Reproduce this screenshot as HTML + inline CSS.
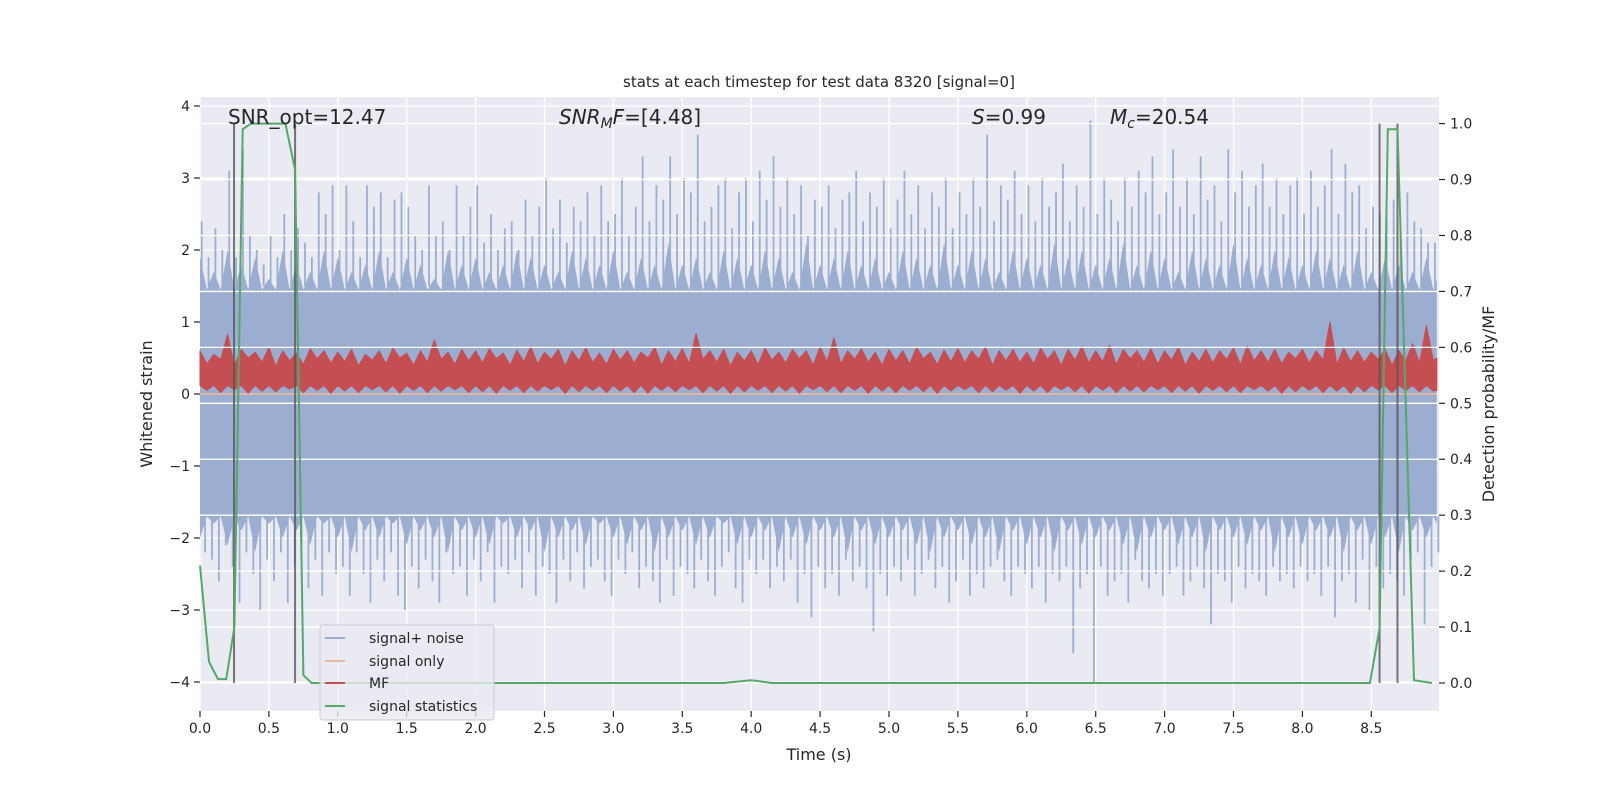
<!DOCTYPE html>
<html><head><meta charset="utf-8"><style>
html,body{margin:0;padding:0;background:#fff;}
svg{display:block;font-family:"DejaVu Sans","Liberation Sans",sans-serif;}
</style></head><body>
<svg id="chart" width="1600" height="800" viewBox="0 0 1600 800" xmlns="http://www.w3.org/2000/svg">
<rect x="200" y="97" width="1239" height="614" fill="#eaeaf2"/>
<g id="gridL"></g>
<g id="noise"></g>
<g id="sigonly"></g>
<g id="mf"></g>
<g id="gridR"></g>
<g id="vlines"></g>
<g id="stats"></g>
<g id="axes"></g>
<text x="819" y="87" text-anchor="middle" font-size="15" fill="#262626">stats at each timestep for test data 8320 [signal=0]</text>
<text x="819" y="760" text-anchor="middle" font-size="16" fill="#262626">Time (s)</text>
<text transform="translate(152,404) rotate(-90)" text-anchor="middle" font-size="16" fill="#262626">Whitened strain</text>
<text transform="translate(1494,404) rotate(-90)" text-anchor="middle" font-size="16" fill="#262626">Detection probability/MF</text>
<g font-size="20" fill="#262626">
<text x="228" y="124">SNR_opt=12.47</text>
<text x="559" y="124"><tspan font-style="italic">SNR</tspan><tspan font-style="italic" font-size="14" dy="4">M</tspan><tspan font-style="italic" dy="-4">F</tspan>=[4.48]</text>
<text x="972" y="124"><tspan font-style="italic">S</tspan>=0.99</text>
<text x="1110" y="124"><tspan font-style="italic">M</tspan><tspan font-style="italic" font-size="14" dy="4">c</tspan><tspan dy="-4">=20.54</tspan></text>
</g>
<g>
<rect x="320" y="625" width="174" height="95" rx="3" fill="#eaeaf2" fill-opacity="0.8" stroke="#cccccc"/>
<g font-size="14" fill="#262626">
<line x1="325" y1="638" x2="345" y2="638" stroke="#9baed1" stroke-width="2"/><text x="369" y="643">signal+ noise</text>
<line x1="325" y1="661" x2="345" y2="661" stroke="#e9b89e" stroke-width="2"/><text x="369" y="666">signal only</text>
<line x1="325" y1="683" x2="345" y2="683" stroke="#c44e52" stroke-width="2"/><text x="369" y="688">MF</text>
<line x1="325" y1="706" x2="345" y2="706" stroke="#55a868" stroke-width="2"/><text x="369" y="711">signal statistics</text>
</g></g>
</svg>
<script>
const xTicks=[0,0.5,1,1.5,2,2.5,3,3.5,4,4.5,5,5.5,6,6.5,7,7.5,8,8.5];
const yTicks=[-4,-3,-2,-1,0,1,2,3,4];
const y2Ticks=[0,0.1,0.2,0.3,0.4,0.5,0.6,0.7,0.8,0.9,1.0];
const noiseHi=[2.4,1.9,2.3,2.0,3.1,1.9,3.4,2.2,2.0,1.8,2.2,1.9,2.5,2.0,2.3,2.1,1.9,2.8,2.5,2.9,
2.0,2.9,2.4,1.9,2.9,2.6,2.8,1.9,2.7,2.8,2.6,2.2,2.0,2.9,2.2,2.4,2.0,2.9,2.2,2.6,
2.9,2.1,2.5,2.0,2.3,2.4,2.0,2.7,2.2,2.6,3.0,2.3,2.7,2.1,2.6,2.4,2.8,2.2,2.9,2.4,
2.5,3.0,2.2,2.6,3.3,2.4,2.9,2.7,3.3,2.5,3.0,2.8,3.6,2.4,2.6,2.9,3.0,2.3,2.8,3.0,
2.4,3.1,2.7,3.3,2.6,3.0,2.5,2.9,2.2,2.7,2.6,2.9,2.3,2.7,2.8,3.1,2.4,2.8,2.6,3.0,
2.3,2.7,3.1,2.5,2.9,2.3,2.8,2.6,3.0,2.3,2.8,2.5,3.0,2.6,3.6,2.4,2.9,2.7,3.1,2.5,
2.9,2.4,3.0,2.6,2.8,3.2,2.4,2.9,2.6,3.8,2.5,3.0,2.7,2.4,3.0,2.6,3.1,2.8,3.3,2.5,
2.8,3.4,2.6,3.0,2.5,3.3,2.7,2.9,2.4,3.4,2.8,3.1,2.6,2.9,3.2,2.6,3.0,2.5,2.9,3.0,
2.5,3.1,2.6,2.9,3.4,2.5,3.2,2.8,2.9,2.3,2.6,2.5,2.4,2.7,2.2,2.8,2.4,2.3,2.1,2.1];
const noiseLo=[-2.2,-2.3,-2.6,-2.1,-2.4,-2.9,-2.2,-2.5,-3.0,-2.3,-2.6,-2.2,-2.9,-2.4,-2.1,-2.7,-2.3,-2.8,-2.2,-2.5,
-2.4,-2.8,-2.2,-2.5,-2.9,-2.3,-2.6,-2.2,-2.8,-3.0,-2.4,-2.7,-2.3,-2.6,-2.9,-2.2,-2.5,-2.4,-2.8,-2.3,
-2.6,-2.2,-2.9,-2.4,-2.5,-2.3,-2.7,-2.2,-2.8,-2.4,-2.5,-2.9,-2.3,-2.6,-2.2,-2.7,-2.4,-2.3,-2.6,-2.8,
-2.3,-2.5,-2.2,-2.7,-2.4,-2.6,-2.9,-2.3,-2.8,-2.4,-2.5,-2.7,-2.3,-2.6,-2.8,-2.4,-2.2,-2.7,-2.9,-2.3,
-2.5,-2.3,-2.7,-2.4,-2.6,-2.3,-2.9,-2.5,-3.1,-2.4,-2.7,-2.5,-2.8,-2.3,-2.6,-2.4,-2.7,-3.3,-2.5,-2.8,
-2.4,-2.6,-2.3,-2.8,-2.5,-2.3,-2.7,-2.4,-2.9,-2.6,-2.3,-2.8,-2.5,-2.7,-2.4,-2.3,-2.6,-2.8,-2.4,-2.5,
-2.7,-2.4,-2.9,-2.5,-2.6,-2.4,-3.6,-2.7,-2.5,-4.0,-2.4,-2.8,-2.6,-2.5,-2.9,-2.3,-2.6,-2.7,-2.5,-2.8,
-2.5,-2.4,-2.8,-2.6,-2.4,-2.7,-3.2,-2.5,-2.6,-2.9,-2.4,-2.7,-2.5,-2.6,-2.8,-2.4,-2.6,-2.5,-2.7,-2.4,
-2.6,-2.5,-2.8,-2.4,-3.1,-2.6,-2.5,-2.9,-2.3,-3.0,-2.4,-2.7,-2.5,-2.6,-2.8,-2.3,-2.2,-3.2,-2.4,-2.2];
const bandHi=[1.9,1.7,2.0,1.8,1.9,1.6,2.0,1.8,1.7,2.0,1.9,1.7,1.8,2.0,1.7,1.9,1.8,1.6,2.0,1.8,
1.9,1.7,1.8,2.0,1.9,1.8,1.7,2.0,1.9,1.8,2.0,1.7,1.9,1.8,2.1,1.8,1.9,1.7,2.0,1.9,
1.8,2.0,1.9,1.7,2.1,1.8,1.9,2.0,1.8,1.9,1.7,2.0,1.9,1.8,2.1,1.8,2.0,1.9,1.7,2.0,
1.9,1.8,2.1,1.9,2.0,1.8,1.9,2.1,1.8,2.0,1.9,1.7,2.0,1.9,1.8,2.1,1.9,1.8,2.0,1.9,
1.8,2.0,1.9,1.8,2.0,1.7,1.9,1.8,1.7,1.9];
const bandLo=[-2.0,-1.8,-2.1,-1.9,-2.2,-1.8,-2.0,-1.9,-2.1,-1.8,-2.0,-2.2,-1.9,-2.0,-1.8,-2.1,-1.9,-2.0,-2.2,-1.9,
-2.0,-2.1,-1.8,-2.0,-1.9,-2.2,-2.0,-1.9,-2.1,-1.8,-2.0,-2.1,-1.9,-2.2,-2.0,-1.9,-2.1,-2.0,-1.8,-2.1,
-2.0,-1.9,-2.2,-2.0,-2.1,-1.9,-2.0,-2.2,-1.9,-2.1,-2.0,-1.9,-2.1,-2.2,-2.0,-1.9,-2.1,-2.0,-2.2,-1.9,
-2.1,-2.0,-2.2,-1.9,-2.1,-2.0,-1.9,-2.1,-2.2,-2.0,-1.9,-2.1,-2.0,-2.2,-1.9,-2.0,-2.1,-1.9,-2.2,-2.0,
-2.1,-1.9,-2.0,-2.2,-1.9,-2.1,-2.0,-2.2,-1.9,-2.0];
const mfHi=[0.6,0.55,0.83,0.62,0.58,0.65,0.6,0.57,0.63,0.6,
0.58,0.62,0.55,0.6,0.64,0.57,0.6,0.75,0.58,0.62,
0.6,0.63,0.57,0.61,0.66,0.58,0.62,0.6,0.64,0.57,
0.62,0.6,0.58,0.65,0.6,0.63,0.84,0.6,0.62,0.58,
0.6,0.64,0.58,0.62,0.6,0.66,0.78,0.6,0.63,0.58,
0.62,0.6,0.65,0.58,0.61,0.63,0.6,0.66,0.6,0.62,
0.58,0.64,0.6,0.62,0.66,0.6,0.68,0.62,0.6,0.63,
0.6,0.65,0.58,0.62,0.6,0.64,0.67,0.6,0.62,0.58,
0.62,0.6,1.0,0.64,0.6,0.58,0.62,0.6,0.7,0.95];
const mfBody=[0.42,0.48,0.4,0.5,0.44,0.38,0.46,0.41,0.49,0.43,
0.45,0.39,0.47,0.42,0.5,0.4,0.44,0.48,0.41,0.46,
0.43,0.49,0.4,0.45,0.42,0.48,0.39,0.46,0.44,0.41,
0.47,0.43,0.5,0.4,0.45,0.42,0.48,0.44,0.39,0.46,
0.41,0.47,0.43,0.49,0.4,0.45,0.42,0.48,0.44,0.4,
0.46,0.42,0.49,0.41,0.45,0.43,0.48,0.4,0.46,0.44,
0.42,0.48,0.4,0.47,0.43,0.45,0.41,0.49,0.44,0.42,
0.47,0.4,0.45,0.43,0.48,0.41,0.46,0.44,0.42,0.49,
0.43,0.47,0.41,0.45,0.44,0.48,0.4,0.46,0.43,0.47];
const mfLo=[0.05,0.02,0.06,0.01,0.04,0.03,0.07,0.02,0.05,0.01,
0.04,0.02,0.06,0.03,0.01,0.05,0.02,0.04,0.06,0.02,
0.03,0.01,0.05,0.02,0.04,0.06,0.01,0.03,0.05,0.02,
0.04,0.02,0.01,0.05,0.03,0.06,0.02,0.04,0.01,0.03,
0.05,0.02,0.04,0.01,0.06,0.03,0.02,0.05,0.01,0.04,
0.02,0.05,0.03,0.01,0.04,0.06,0.02,0.03,0.05,0.01,
0.04,0.02,0.06,0.03,0.01,0.05,0.02,0.04,0.03,0.06,
0.02,0.04,0.01,0.05,0.03,0.02,0.06,0.04,0.01,0.03,
0.05,0.02,0.04,0.01,0.03,0.06,0.02,0.05,0.03,0.04];
const statT=[0,0.065,0.13,0.19,0.25,0.31,0.37,0.44,0.5,0.56,0.62,0.69,0.75,0.81,3.8,4.0,4.15,8.49,8.56,8.62,8.69,8.81,8.94];
const statV=[0.21,0.038,0.007,0.007,0.1,0.99,1.0,1.0,1.0,1.0,1.0,0.917,0.014,0.0,0.0,0.005,0.0,0.0,0.098,0.99,0.99,0.005,0.0];
const markerT=[0.247,0.69,8.56,8.69];
const NS="http://www.w3.org/2000/svg";
const X0=200,X1=1439,Y0=97,Y1=711;
const xs=t=>200+t*137.8;
const yL=v=>394-v*72;
const yR=v=>683-v*559.4;
function mk(tag,attrs,parent){const e=document.createElementNS(NS,tag);for(const k in attrs)e.setAttribute(k,attrs[k]);parent.appendChild(e);return e;}
const gL=document.getElementById('gridL'),gR=document.getElementById('gridR'),ax=document.getElementById('axes');
xTicks.forEach(t=>{const l=mk('line',{x1:xs(t),x2:xs(t),y1:Y0,y2:Y1,stroke:'#fff','stroke-width':1.3},gL);

mk('line',{x1:xs(t),x2:xs(t),y1:Y1,y2:Y1+6,stroke:'#262626','stroke-width':1.2},ax);
const tx=mk('text',{x:xs(t),y:Y1+22,'text-anchor':'middle','font-size':14,fill:'#262626'},ax);tx.textContent=t.toFixed(1);
});
yTicks.forEach(v=>{const l=mk('line',{x1:X0,x2:X1,y1:yL(v),y2:yL(v),stroke:'#fff','stroke-width':1.3},gL);

mk('line',{x1:X0-6,x2:X0,y1:yL(v),y2:yL(v),stroke:'#262626','stroke-width':1.2},ax);
const tx=mk('text',{x:X0-10,y:yL(v)+5,'text-anchor':'end','font-size':14,fill:'#262626'},ax);tx.textContent=(v<0?'\u2212'+(-v):v);
});
y2Ticks.forEach(v=>{const l=mk('line',{x1:X0,x2:X1,y1:yR(v),y2:yR(v),stroke:'#fff','stroke-width':1.3},gR);

mk('line',{x1:X1,x2:X1+6,y1:yR(v),y2:yR(v),stroke:'#262626','stroke-width':1.2},ax);
const tx=mk('text',{x:X1+11,y:yR(v)+5,'font-size':14,fill:'#262626'},ax);tx.textContent=v.toFixed(1);
});
const ng=document.getElementById('noise');
const tEnd=8.975;
// body polygon: jagged top from bandHi, jagged bottom from bandLo
let pts=[];
bandHi.forEach((v,i)=>{pts.push(xs(i*0.1).toFixed(1)+','+yL(v).toFixed(1));pts.push(xs(i*0.1+0.05).toFixed(1)+','+yL(1.45).toFixed(1));});
pts.push(xs(tEnd).toFixed(1)+','+yL(1.6).toFixed(1));
pts.push(xs(tEnd).toFixed(1)+','+yL(-1.8).toFixed(1));
for(let i=bandLo.length-1;i>=0;i--){pts.push(xs(i*0.1+0.05).toFixed(1)+','+yL(-1.7).toFixed(1));pts.push(xs(i*0.1).toFixed(1)+','+yL(bandLo[i]).toFixed(1));}
const body=mk('polygon',{points:pts.join(' '),fill:'#9baed1'},ng);

noiseHi.forEach((h,i)=>{const x=xs(i*0.05+0.012);
const a=mk('line',{x1:x,x2:x,y1:yL(1.5),y2:yL(h),stroke:'#9baed1','stroke-width':1.8},ng);

const x2=xs(i*0.05+0.037);
const b=mk('line',{x1:x2,x2:x2,y1:yL(-1.7),y2:yL(noiseLo[i]),stroke:'#9baed1','stroke-width':1.8},ng);
});
const so=mk('line',{x1:X0,x2:xs(tEnd),y1:yL(0),y2:yL(0),stroke:'#e9b89e','stroke-width':1.8},document.getElementById('sigonly'));

// MF
const mg=document.getElementById('mf');
let mp=[];
mfHi.forEach((h,i)=>{mp.push(xs(i*0.1).toFixed(1)+','+yL(h).toFixed(1));mp.push(xs(i*0.1+0.05).toFixed(1)+','+yL(mfBody[i]).toFixed(1));});
mp.push(xs(tEnd).toFixed(1)+','+yL(0.5).toFixed(1));
mp.push(xs(tEnd).toFixed(1)+','+yL(0.05).toFixed(1));
for(let i=mfLo.length-1;i>=0;i--){mp.push(xs(i*0.1+0.05).toFixed(1)+','+yL(mfLo[i]).toFixed(1));mp.push(xs(i*0.1).toFixed(1)+','+yL(0.12).toFixed(1));}
const mpoly=mk('polygon',{points:mp.join(' '),fill:'#c44e52',stroke:'#c44e52','stroke-width':1,'stroke-linejoin':'round'},mg);

markerT.forEach(t=>{const l=mk('line',{x1:xs(t),x2:xs(t),y1:yR(0),y2:yR(1),stroke:'#555','stroke-opacity':0.8,'stroke-width':2},document.getElementById('vlines'));
});
const sp=mk('polyline',{points:statT.map((t,i)=>xs(t).toFixed(1)+','+yR(statV[i]).toFixed(1)).join(' '),fill:'none',stroke:'#55a868','stroke-width':2},document.getElementById('stats'));

</script>
</body></html>
